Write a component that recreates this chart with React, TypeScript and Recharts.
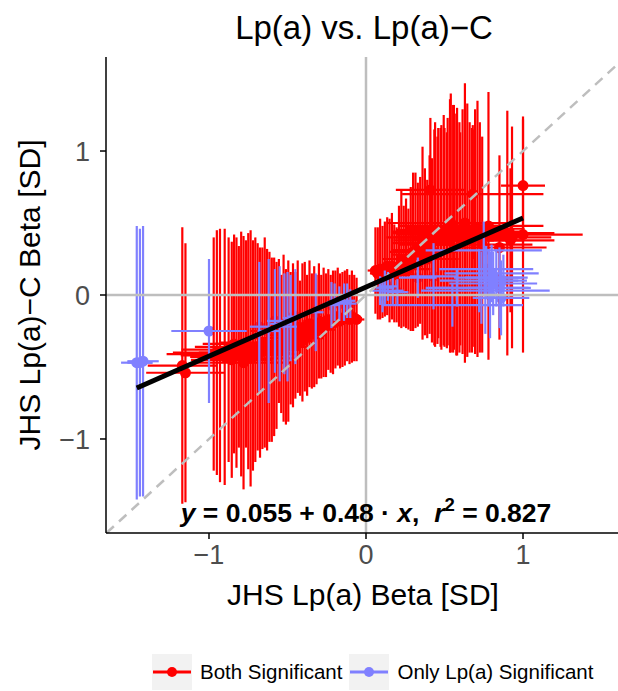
import React from 'react';
import { ComposedChart, Scatter, XAxis, YAxis, ErrorBar, ReferenceLine } from 'recharts';

// Both Significant (red)
const bothX = [
  -1.17, -1.15, -0.97, -0.95, -0.93, -0.9, -0.875, -0.855, -0.84, -0.825, -0.81, -0.795, -0.78, -0.765, -0.75, -0.735,
  -0.72, -0.705, -0.69, -0.675, -0.66, -0.645, -0.63, -0.615, -0.6, -0.585, -0.57, -0.555, -0.54, -0.525, -0.51, -0.495,
  -0.48, -0.465, -0.45, -0.435, -0.42, -0.405, -0.39, -0.375, -0.36, -0.345, -0.33, -0.315, -0.3, -0.285, -0.27, -0.255,
  -0.24, -0.225, -0.21, -0.195, -0.18, -0.165, -0.15, -0.135, -0.12, -0.105, -0.09, -0.075, -0.06,
  0.06, 0.075, 0.09, 0.105, 0.12, 0.135, 0.15, 0.165, 0.18, 0.195, 0.21, 0.225, 0.24, 0.255, 0.27, 0.285,
  0.3, 0.315, 0.33, 0.345, 0.36, 0.375, 0.39, 0.405, 0.41, 0.42, 0.435, 0.44, 0.455, 0.46, 0.475, 0.48,
  0.495, 0.5, 0.515, 0.52, 0.535, 0.54, 0.555, 0.56, 0.575, 0.58, 0.595, 0.6, 0.615, 0.63, 0.645, 0.66,
  0.675, 0.68, 0.68, 0.695, 0.71, 0.725, 0.74, 0.78, 0.85, 0.9, 0.92, 0.93, 1.0, 1.0,
];
const bothY = [
  -0.49, -0.54, -0.41, -0.4, -0.42, -0.43, -0.38, -0.45, -0.34, -0.4, -0.36, -0.41, -0.47, -0.34, -0.39, -0.44,
  -0.42, -0.38, -0.36, -0.4, -0.37, -0.33, -0.38, -0.36, -0.38, -0.36, -0.35, -0.25, -0.34, -0.3, -0.36, -0.32,
  -0.3, -0.28, -0.28, -0.22, -0.3, -0.26, -0.22, -0.28, -0.2, -0.25, -0.22, -0.24, -0.18, -0.22, -0.19, -0.21,
  -0.17, -0.2, -0.19, -0.17, -0.15, -0.18, -0.17, -0.16, -0.14, -0.17, -0.15, -0.16, -0.17,
  0.17, 0.15, 0.18, 0.16, 0.18, 0.2, 0.17, 0.2, 0.15, 0.14, 0.2, 0.25, 0.2, 0.22, 0.18, 0.25,
  0.3, 0.31, 0.28, 0.31, 0.36, 0.3, 0.25, 0.35, 0.73, 0.31, 0.4, 0.42, 0.38, 0.43, 0.4, 0.4,
  0.45, 0.4, 0.38, 0.44, 0.48, 0.5, 0.46, 0.47, 0.42, 0.44, 0.4, 0.39, 0.44, 0.5, 0.45, 0.4,
  0.38, 0.41, 0.7, 0.44, 0.46, 0.4, 0.35, 0.48, 0.33, 0.43, 0.38, 0.4, 0.42, 0.76,
];
const bothXErr = [
  0.22, 0.25, 0.3, 0.28, 0.25, 0.22, 0.3, 0.26, 0.2, 0.24, 0.28, 0.35, 0.3, 0.2, 0.25, 0.3,
  0.22, 0.25, 0.2, 0.2, 0.24, 0.28, 0.2, 0.22, 0.18, 0.15, 0.18, 0.18, 0.16, 0.2, 0.15, 0.15,
  0.14, 0.17, 0.13, 0.12, 0.15, 0.15, 0.12, 0.12, 0.1, 0.1, 0.12, 0.12, 0.1, 0.1, 0.1, 0.1,
  0.09, 0.08, 0.08, 0.08, 0.07, 0.07, 0.07, 0.06, 0.06, 0.05, 0.05, 0.05, 0.05,
  0.05, 0.05, 0.06, 0.06, 0.07, 0.07, 0.08, 0.08, 0.09, 0.1, 0.1, 0.12, 0.12, 0.12, 0.14, 0.15,
  0.15, 0.15, 0.16, 0.18, 0.2, 0.2, 0.2, 0.2, 0.22, 0.22, 0.22, 0.25, 0.28, 0.3, 0.3, 0.35,
  0.3, 0.3, 0.3, 0.35, 0.32, 0.4, 0.3, 0.3, 0.3, 0.35, 0.3, 0.3, 0.3, 0.3, 0.3, 0.3,
  0.32, 0.35, 0.45, 0.3, 0.3, 0.3, 0.32, 0.35, 0.3, 0.3, 0.28, 0.25, 0.38, 0.14,
];
const bothYErr = [
  0.96, 0.9, 0.81, 0.85, 0.88, 0.89, 0.78, 0.82, 0.76, 0.8, 0.7, 0.85, 0.88, 0.72, 0.82, 0.89,
  0.8, 0.78, 0.72, 0.73, 0.7, 0.73, 0.7, 0.66, 0.64, 0.62, 0.58, 0.5, 0.48, 0.58, 0.54, 0.56,
  0.46, 0.5, 0.44, 0.46, 0.4, 0.48, 0.45, 0.42, 0.44, 0.4, 0.42, 0.38, 0.4, 0.36, 0.38, 0.36,
  0.35, 0.34, 0.36, 0.34, 0.34, 0.33, 0.33, 0.33, 0.32, 0.31, 0.32, 0.3, 0.29,
  0.3, 0.32, 0.35, 0.32, 0.33, 0.34, 0.36, 0.37, 0.34, 0.33, 0.42, 0.48, 0.42, 0.45, 0.42, 0.5,
  0.55, 0.54, 0.5, 0.51, 0.67, 0.58, 0.55, 0.62, 0.5, 0.64, 0.75, 0.78, 0.72, 0.73, 0.76, 0.78,
  0.8, 0.76, 0.75, 0.79, 0.88, 0.9, 0.86, 0.85, 0.84, 0.86, 0.8, 0.74, 0.85, 0.97, 0.88, 0.8,
  0.78, 0.77, 0.45, 0.85, 0.89, 0.8, 0.75, 0.93, 0.64, 0.85, 0.5, 0.77, 0.82, 0.46,
];

// Only Lp(a) Significant (purple)
const onlyX = [
  -1.46, -1.44, -1.42, -1.0, -0.68, -0.62, -0.58, -0.55, -0.52, -0.5, -0.48, -0.45, -0.32, -0.22,
  -0.2, -0.17, -0.14, -0.12, -0.1, 0.09, 0.105, 0.12, 0.14, 0.17, 0.2, 0.33, 0.43, 0.55,
  0.58, 0.72, 0.735, 0.75, 0.76, 0.765, 0.78, 0.79, 0.8, 0.81, 0.83, 0.85, 0.86, 0.875,
];
const onlyY = [
  -0.47, -0.47, -0.46, -0.25, -0.22, -0.25, -0.18, -0.2, -0.2, -0.22, -0.16, -0.15, -0.12, -0.07,
  -0.05, -0.06, -0.05, -0.04, -0.06, 0.03, 0.0, 0.05, 0.06, 0.03, 0.02, 0.12, 0.13, -0.07,
  0.05, 0.1, 0.05, 0.31, 0.03, 0.18, 0.12, 0.0, 0.15, 0.08, 0.12, 0.05, -0.02, 0.1,
];
const onlyXErr = [
  0.1, 0.08, 0.1, 0.24, 0.06, 0.07, 0.05, 0.06, 0.05, 0.06, 0.05, 0.05, 0.05, 0.05,
  0.05, 0.05, 0.05, 0.05, 0.04, 0.05, 0.05, 0.06, 0.06, 0.07, 0.07, 0.12, 0.15, 0.45,
  0.2, 0.25, 0.3, 0.37, 0.41, 0.3, 0.22, 0.25, 0.3, 0.28, 0.2, 0.2, 0.18, 0.15,
];
const onlyYErr = [
  0.95, 0.93, 0.94, 0.5, 0.45, 0.5, 0.36, 0.4, 0.35, 0.38, 0.3, 0.33, 0.27, 0.16,
  0.13, 0.12, 0.13, 0.12, 0.1, 0.1, 0.12, 0.12, 0.1, 0.1, 0.09, 0.14, 0.23, 0.15,
  0.13, 0.22, 0.25, 0.2, 0.3, 0.16, 0.2, 0.3, 0.2, 0.22, 0.2, 0.28, 0.26, 0.18,
];

const fitIntercept = 0.055;
const fitSlope = 0.48;

const xDomain: [number, number] = [-1.656, 1.605];
const yDomain: [number, number] = [-1.653, 1.653];
const axisTicks = [-1, 0, 1];

const RED = '#ff0000';
const PURPLE = '#8080ff';
const GRID = '#bebebe';
const FONT = '"Liberation Sans", Arial, Helvetica, sans-serif';

const toRows = (xs: number[], ys: number[], exs: number[], eys: number[]) =>
  xs.map((x, i) => ({ x, y: ys[i], ex: exs[i], ey: eys[i] }));

const both = toRows(bothX, bothY, bothXErr, bothYErr);
const only = toRows(onlyX, onlyY, onlyXErr, onlyYErr);

const allX = [...bothX, ...onlyX];
const fitLine = [Math.min(...allX), Math.max(...allX)].map((x) => ({ x, y: fitIntercept + fitSlope * x }));

const diagLo = Math.max(xDomain[0], yDomain[0]);
const diagHi = Math.min(xDomain[1], yDomain[1]);

const fmt = (v: number) => (v < 0 ? `\u2212${Math.abs(v)}` : `${v}`);

const dot = (color: string) => (p: any) => <circle cx={p.cx} cy={p.cy} r={5.5} fill={color} />;
const none = () => <g />;

const LegendKey = ({ color }: { color: string }) => (
  <svg width={40} height={36} style={{ background: '#f2f2f2', display: 'block' }}>
    <line x1={1} x2={39} y1={18} y2={18} stroke={color} strokeWidth={3} />
    <circle cx={20} cy={18} r={5} fill={color} />
  </svg>
);

export default function App() {
  const lowZ: any = { zIndex: -10 };
  return (
    <div style={{ position: 'absolute', left: 0, top: 0, width: 618, height: 691, background: '#fff', fontFamily: FONT }}>
      <div style={{ position: 'absolute', left: 106, width: 516, top: 11, textAlign: 'center', fontSize: 33, lineHeight: 1, color: '#000' }}>
        Lp(a) vs. Lp(a)−C
      </div>

      <ComposedChart width={618} height={691} margin={{ top: 57, right: 0, bottom: 58, left: 0 }} style={{ fontFamily: FONT }}>
        <XAxis
          type="number"
          dataKey="x"
          domain={xDomain}
          allowDataOverflow
          ticks={axisTicks}
          tickFormatter={fmt}
          height={100}
          tickSize={6}
          tickMargin={6}
          stroke="#000"
          strokeWidth={1.5}
          tick={{ fill: '#4d4d4d', fontSize: 27 }}
        />
        <YAxis
          type="number"
          dataKey="y"
          domain={yDomain}
          allowDataOverflow
          ticks={axisTicks}
          tickFormatter={fmt}
          width={106}
          tickSize={6}
          tickMargin={10}
          stroke="#000"
          strokeWidth={1.5}
          tick={{ fill: '#4d4d4d', fontSize: 27 }}
        />

        {/* points sit underneath the error bars */}
        <Scatter data={both} fill={RED} shape={dot(RED)} isAnimationActive={false} {...lowZ} />
        <Scatter data={only} fill={PURPLE} shape={dot(PURPLE)} isAnimationActive={false} {...lowZ} />
        <Scatter data={both} fill={RED} shape={none} isAnimationActive={false}>
          <ErrorBar dataKey="ey" direction="y" width={0} stroke={RED} strokeWidth={2.2} />
          <ErrorBar dataKey="ex" direction="x" width={0} stroke={RED} strokeWidth={2.2} />
        </Scatter>
        <Scatter data={only} fill={PURPLE} shape={none} isAnimationActive={false}>
          <ErrorBar dataKey="ey" direction="y" width={0} stroke={PURPLE} strokeWidth={2.2} />
          <ErrorBar dataKey="ex" direction="x" width={0} stroke={PURPLE} strokeWidth={2.2} />
        </Scatter>

        <ReferenceLine x={0} stroke={GRID} strokeWidth={2.5} />
        <ReferenceLine y={0} stroke={GRID} strokeWidth={2.5} />
        <ReferenceLine
          segment={[{ x: diagLo, y: diagLo }, { x: diagHi, y: diagHi }]}
          stroke={GRID}
          strokeWidth={2.5}
          strokeDasharray="10 7"
        />

        <Scatter
          data={fitLine}
          line={{ stroke: '#000', strokeWidth: 5 }}
          shape={none}
          legendType="none"
          isAnimationActive={false}
        />
      </ComposedChart>

      <div
        style={{
          position: 'absolute', left: 0, width: 732, top: 500, textAlign: 'center', fontSize: 26.5,
          lineHeight: 1, fontWeight: 'bold', whiteSpace: 'pre', color: '#000',
        }}
      >
        <i>y</i> = 0.055 + 0.48 · <i>x</i>,  <i>r</i>
        <span style={{ fontSize: '0.7em', position: 'relative', top: '-0.6em' }}>2</span> = 0.827
      </div>

      <div style={{ position: 'absolute', left: 363 - 200, width: 400, top: 580, textAlign: 'center', fontSize: 30, lineHeight: 1 }}>
        JHS Lp(a) Beta [SD]
      </div>
      <div
        style={{
          position: 'absolute', left: 30, top: 295, fontSize: 30, lineHeight: 1, whiteSpace: 'nowrap',
          transform: 'translate(-50%, -50%) rotate(-90deg)',
        }}
      >
        JHS Lp(a)−C Beta [SD]
      </div>

      <div style={{ position: 'absolute', left: 152, top: 654, height: 36, display: 'flex', alignItems: 'center', fontSize: 20.5 }}>
        <LegendKey color={RED} />
        <span style={{ marginLeft: 8, marginRight: 7 }}>Both Significant</span>
        <LegendKey color={PURPLE} />
        <span style={{ marginLeft: 8 }}>Only Lp(a) Significant</span>
      </div>
    </div>
  );
}
